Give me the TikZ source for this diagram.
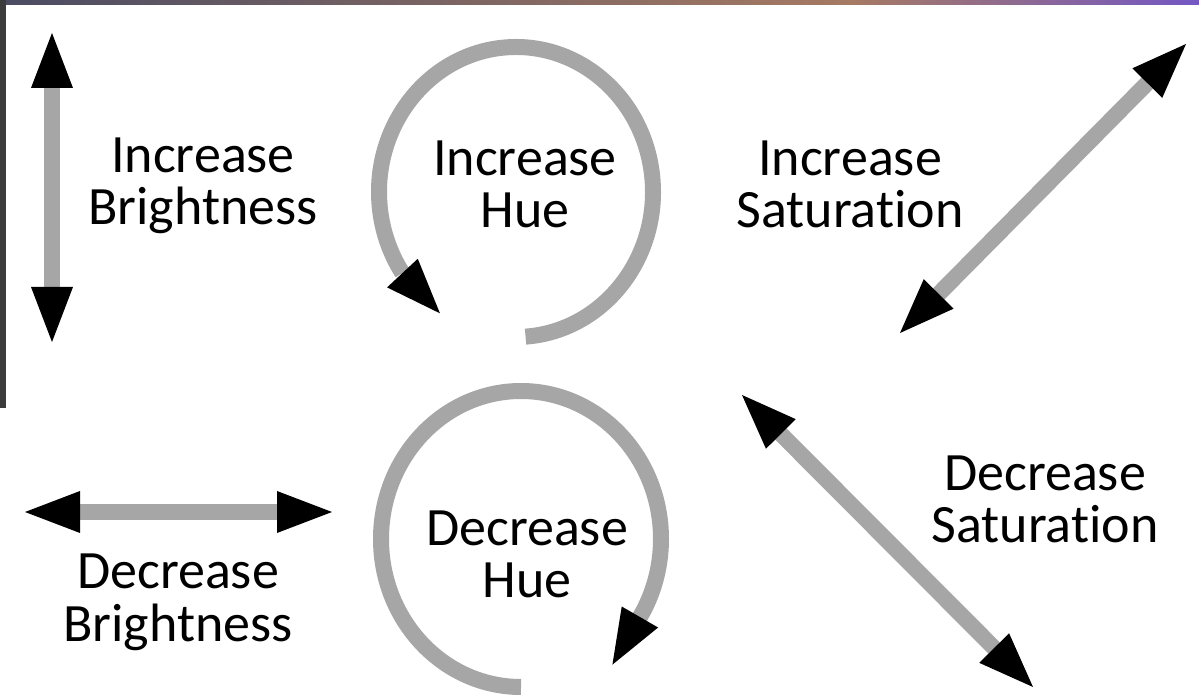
\documentclass[tikz,border=0pt]{standalone}
\usepackage{fontspec}
\setmainfont{Carlito}[Ligatures=NoCommon]
\usepackage{xcolor}
\usepackage{tikz}
\usetikzlibrary{arrows.meta}

\definecolor{shaftgray}{HTML}{A6A6A6}
\definecolor{frameleft}{HTML}{4B4C63}
\definecolor{framemid}{HTML}{A67A63}
\definecolor{frameright}{HTML}{7457C4}
\definecolor{framedark}{HTML}{3C3C3C}

\begin{document}
\begin{tikzpicture}[x=1pt,y=1pt]
      \tikzstyle{lbl}=[anchor=base,align=center,inner sep=0pt,font=\fontsize{54}{52}\selectfont]
      \tikzstyle{shaft}=[draw=shaftgray,line width=16pt]
      \tikzstyle{head}=[>={Triangle[length=55pt,width=42pt,line width=0pt,color=black]}]
      \useasboundingbox (0,0) rectangle (1199,696);
      \fill[white] (0,0) rectangle (1199,696);
      % frame strips of the slide
      \shade[left color=frameleft,right color=framemid] (0,691) rectangle (850,696);
      \shade[left color=framemid,right color=frameright] (850,691) rectangle (1199,696);
      \fill[framedark] (0,288) rectangle (6,696);
      % labels
      \node[lbl] (ib) at (203,471) {Increase\\Brightness};
      \node[lbl] (ih) at (525,468) {Increase\\Hue};
      \node[lbl] (is) at (850,468) {Increase\\Saturation};
      \node[lbl] (db) at (178,55) {Decrease\\Brightness};
      \node[lbl] (dh) at (527,98) {Decrease\\Hue};
      \node[lbl] (ds) at (1045,153) {Decrease\\Saturation};
      % arrow ends
      \coordinate (ibt) at (52,663);
      \coordinate (ibb) at (52,354);
      \coordinate (dbl) at (25,184);
      \coordinate (dbr) at (332,184);
      \coordinate (ist) at (1186,652);
      \coordinate (isb) at (900,363);
      \coordinate (dst) at (742,301);
      \coordinate (dsb) at (1033,9);
      \coordinate (ihc) at (516,504);
      \coordinate (dhc) at (521,157);
      \draw[shaft,head,<->] (ibb) -- (ibt);
      \draw[shaft,head,<->] (dbl) -- (dbr);
      \draw[shaft,head,<->] (isb) -- (ist);
      \draw[shaft,head,<->] (dst) -- (dsb);
      % hue circles
      \draw[shaft,head,->] ([shift={(-86:137 and 145)}]ihc)
        arc[start angle=-86,end angle=214,x radius=137,y radius=145] -- ++(-47:55);
      \draw[shaft,head,->] ([shift={(270:140 and 148)}]dhc)
        arc[start angle=270,end angle=-33,x radius=140,y radius=148] -- ++(240:52);
    \end{tikzpicture}
\end{document}
